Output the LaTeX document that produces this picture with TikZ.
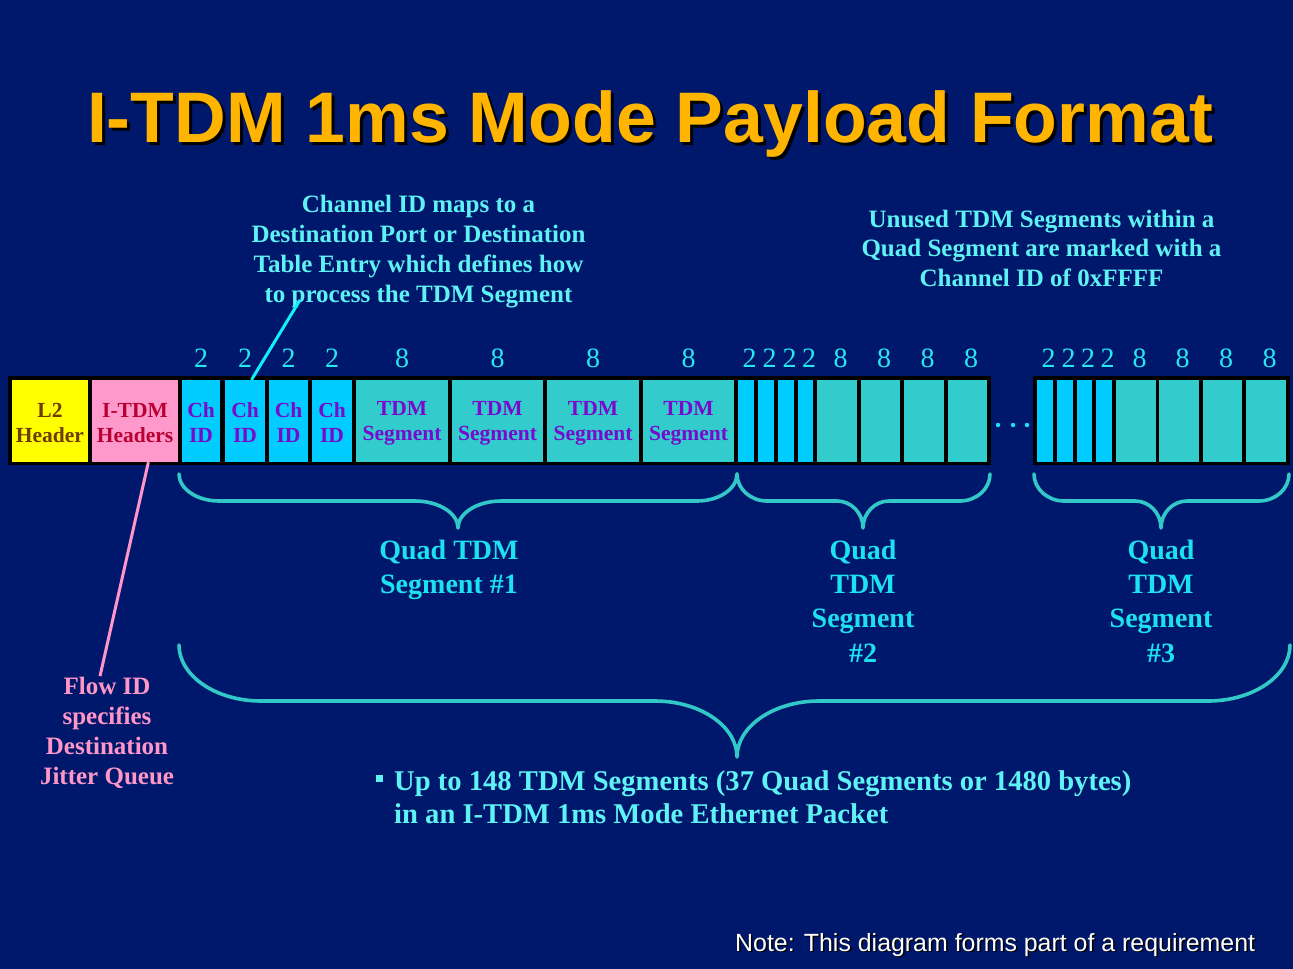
\documentclass[tikz,border=0pt]{standalone}
\usepackage{fontspec}
\setmainfont{Liberation Serif}
\newfontfamily\sansfam{Liberation Sans}
\usetikzlibrary{calc}

\definecolor{bgnavy}{RGB}{0,24,108}
\definecolor{titlegold}{RGB}{255,180,0}
\definecolor{cellyellow}{RGB}{255,255,0}
\definecolor{cellpink}{RGB}{255,153,204}
\definecolor{cellcyan}{RGB}{0,204,255}
\definecolor{cellteal}{RGB}{51,204,204}
\definecolor{txtbrown}{RGB}{110,60,0}
\definecolor{txtcrimson}{RGB}{185,0,50}
\definecolor{txtpurple}{RGB}{120,10,205}
\definecolor{numcyan}{RGB}{40,230,240}
\definecolor{notecyan}{RGB}{95,242,245}
\definecolor{labelcyan}{RGB}{30,225,240}
\definecolor{bracecol}{RGB}{50,200,200}
\definecolor{leadcyan}{RGB}{20,240,250}
\definecolor{leadpink}{RGB}{255,150,200}

% one packet field: name, left x, right x, fill, text
\newcommand\pktcell[5]{%
  \node[cellbox,fill=#4,minimum width={#3-#2}] (#1) at ({(#2+#3)/2},421) {};
  \node[celltext] (#1txt) at ($(#1.center)+(0,2)$) {#5};}

% curly brace: left x, right x, tip x, top y, bar y, tip y, end radius, tip radius
\newcommand\curlybrace[8]{%
  \draw[brace] (#1,#4)
    .. controls (#1,{#4+0.55*(#5-#4)}) and ({#1+0.45*#7},#5) .. ({#1+#7},#5)
    -- ({#3-#8},#5)
    .. controls ({#3-0.45*#8},#5) and (#3,{#5+0.45*(#6-#5)}) .. (#3,#6)
    .. controls (#3,{#5+0.45*(#6-#5)}) and ({#3+0.45*#8},#5) .. ({#3+#8},#5)
    -- ({#2-#7},#5)
    .. controls ({#2-0.45*#7},#5) and (#2,{#4+0.55*(#5-#4)}) .. (#2,#4);}

% text with a small drop shadow behind it
\newcommand\shadowed[3]{%
  \makebox[0pt][l]{\hspace*{#1}\raisebox{-#1}{\color{black}#3}}\color{#2}#3}

\tikzset{
  cellbox/.style={draw=none,inner sep=0pt,minimum height=82},
  celltext/.style={inner sep=0pt,align=center,
    font=\bfseries\fontsize{21.5}{25}\selectfont},
  numlbl/.style={anchor=base,inner sep=0pt,text=numcyan,
    font=\fontsize{28}{30}\selectfont},
  callout/.style={align=center,inner sep=0pt,text=notecyan,
    font=\bfseries\fontsize{25}{30}\selectfont},
  quadlbl/.style={align=center,inner sep=0pt,text=labelcyan,
    font=\bfseries\fontsize{28}{34.3}\selectfont},
  brace/.style={draw=bracecol,line width=3.6pt,line cap=round,line join=round},
  leader/.style={line width=3pt},
  packetframe/.style={fill=black}
}

\begin{document}
\begin{tikzpicture}[x=1pt,y=-1pt]
\useasboundingbox (0,0) rectangle (1293,969);
\fill[bgnavy] (0,0) rectangle (1293,969);

% title with drop shadow
\node[anchor=base,inner sep=0pt,
  font=\sansfam\bfseries\fontsize{71.6}{80}\selectfont] (title) at (650,142)
  {\shadowed{3pt}{titlegold}{I-TDM 1ms Mode Payload Format}};

% packet frames
\fill[packetframe] (8,376) rectangle (991,465);
\fill[packetframe] (1033,376) rectangle (1290,465);

% first quad segment with headers
\pktcell{l2}{12}{88}{cellyellow}{\color{txtbrown}L2\\\color{txtbrown}Header}
\pktcell{hdr}{92}{178}{cellpink}{\color{txtcrimson}I-TDM\\\color{txtcrimson}Headers}
\pktcell{ca}{182}{220}{cellcyan}{\color{txtpurple}Ch\\\color{txtpurple}ID}
\pktcell{cb}{225}{265}{cellcyan}{\color{txtpurple}Ch\\\color{txtpurple}ID}
\pktcell{cc}{269}{308}{cellcyan}{\color{txtpurple}Ch\\\color{txtpurple}ID}
\pktcell{cd}{312}{352}{cellcyan}{\color{txtpurple}Ch\\\color{txtpurple}ID}
\pktcell{sa}{356}{448}{cellteal}{\color{txtpurple}TDM\\\color{txtpurple}Segment}
\pktcell{sb}{452}{543}{cellteal}{\color{txtpurple}TDM\\\color{txtpurple}Segment}
\pktcell{sc}{547}{639}{cellteal}{\color{txtpurple}TDM\\\color{txtpurple}Segment}
\pktcell{sd}{643}{734}{cellteal}{\color{txtpurple}TDM\\\color{txtpurple}Segment}

% second quad segment
\pktcell{qa}{738}{754}{cellcyan}{}
\pktcell{qb}{758}{774}{cellcyan}{}
\pktcell{qc}{778}{794}{cellcyan}{}
\pktcell{qd}{798}{813}{cellcyan}{}
\pktcell{qe}{817}{857}{cellteal}{}
\pktcell{qf}{861}{900}{cellteal}{}
\pktcell{qg}{904}{944}{cellteal}{}
\pktcell{qh}{948}{987}{cellteal}{}

% last quad segment
\pktcell{ra}{1037}{1053}{cellcyan}{}
\pktcell{rb}{1057}{1073}{cellcyan}{}
\pktcell{rc}{1077}{1092}{cellcyan}{}
\pktcell{rd}{1096}{1112}{cellcyan}{}
\pktcell{re}{1116}{1156}{cellteal}{}
\pktcell{rf}{1159}{1199}{cellteal}{}
\pktcell{rg}{1203}{1242}{cellteal}{}
\pktcell{rh}{1246}{1286}{cellteal}{}

% ellipsis between packets
\foreach \dx in {998,1013,1027}
  \fill[labelcyan] (\dx,425) circle[radius=2.2pt];

% field sizes
\foreach \c/\v in {ca/2,cb/2,cc/2,cd/2,sa/8,sb/8,sc/8,sd/8}
  \node[numlbl] (n\c) at (\c.north |- 0,367) {\v};
\foreach \c/\v in {qa/2,qb/2,qc/2,qd/2,qe/8,qf/8,qg/8,qh/8,
                   ra/2,rb/2,rc/2,rd/2,re/8,rf/8,rg/8,rh/8}
  \node[numlbl,xshift=3.5pt] (n\c) at (\c.north |- 0,367) {\v};

% callouts
\node[callout] (chnote) at (418.5,252)
  {Channel ID maps to a\\Destination Port or Destination\\Table Entry which defines how\\to process the TDM Segment};
\node[callout,font=\bfseries\fontsize{25}{29.5}\selectfont] (unused) at (1041.5,248)
  {Unused TDM Segments within a\\Quad Segment are marked with a\\Channel ID of 0xFFFF};
\node[callout,text=leadpink] (flow) at (107,733)
  {Flow ID\\specifies\\Destination\\Jitter Queue};

\coordinate (chlead) at (300,300);
\draw[leader,leadcyan] (chlead) -- (cb.81);
\draw[leader,leadpink] (hdr.-72) -- ($(flow.north)+(-7,-1)$);

% braces grouping the quad segments
\curlybrace{179}{737}{458}{474}{501}{528}{40}{43}
\curlybrace{737}{990}{863}{474}{501}{528}{30}{26}
\curlybrace{1034}{1289}{1161}{474}{501}{528}{30}{26}
\curlybrace{179}{1290}{737}{645}{701}{757}{82}{82}

\node[quadlbl] (quad1) at (449,570) {Quad TDM\\Segment \#1};
\node[quadlbl] (quad2) at (863,601) {Quad\\TDM\\Segment\\\#2};
\node[quadlbl] (quad3) at (1161,601) {Quad\\TDM\\Segment\\\#3};

% summary line
\node[fill=notecyan,inner sep=0pt,minimum size=7] (bullet) at (379,778.5) {};
\node[anchor=base west,inner sep=0pt,text=notecyan,
  font=\bfseries\fontsize{28.6}{33}\selectfont] (sum1) at (394,790)
  {Up to 148 TDM Segments (37 Quad Segments or 1480 bytes)};
\node[anchor=base west,inner sep=0pt,text=notecyan,
  font=\bfseries\fontsize{28.6}{33}\selectfont] (sum2) at (394,823)
  {in an I-TDM 1ms Mode Ethernet Packet};

% footnote with shadow
\node[anchor=base west,inner sep=0pt,
  font=\sansfam\fontsize{24.9}{28}\selectfont] (note) at (735,951)
  {\shadowed{1.5pt}{white}{Note: This diagram forms part of a requirement}};
\end{tikzpicture}
\end{document}
